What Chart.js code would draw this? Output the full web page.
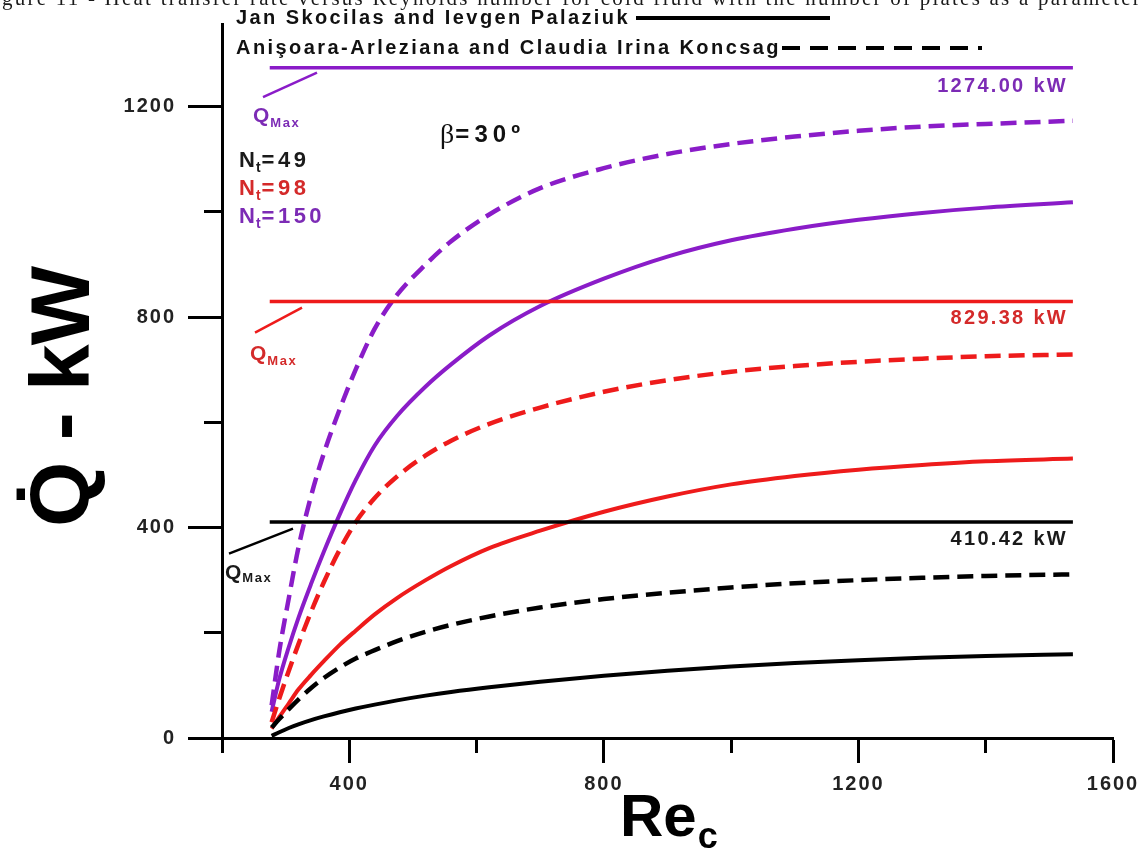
<!DOCTYPE html>
<html lang="en">
<head>
<meta charset="UTF-8" />
<title>Heat transfer rate versus Reynolds number</title>
<script src="https://cdn.jsdelivr.net/npm/chart.js"></script>
<style>
  html, body { margin: 0; padding: 0; background: #fff; }
  canvas { display: block; }
</style>
</head>
<body>
<canvas id="myChart" width="1147" height="850"></canvas>
<script>
// Reynolds number of the cold fluid where the curves were read
const reValues = [278, 290, 305, 320, 340, 360, 385, 410, 440, 475, 520, 560, 620, 700, 800, 900, 1000, 1100, 1200, 1300, 1400, 1537];

// Jan Skocilas and Ievgen Palaziuk (solid lines), Q in kW
const qSkocilas49  = [4, 11, 19, 26, 34, 41, 49, 56, 63.5, 71.5, 80.5, 87.5, 96.5, 107, 118.5, 128, 136, 142.5, 148, 152.5, 156, 159];
const qSkocilas98  = [18, 40, 66, 92, 120, 146, 177, 204, 235, 266, 300, 327, 361, 394, 430, 459, 482, 498, 510, 519, 526, 531];
const qSkocilas150 = [50, 112, 173, 228, 293, 354, 425, 490, 556, 612, 668, 710, 765, 821, 873, 915, 946, 968, 985, 998, 1008, 1018];

// Anisoara-Arleziana and Claudia Irina Koncsag (dashed lines), Q in kW
const qKoncsag49  = [20, 36, 55, 73, 95, 114, 134, 151, 167, 184, 202, 215, 231, 248, 264, 276, 286, 294, 300, 304.5, 308, 311];
const qKoncsag98  = [30, 75, 128, 178, 240, 296, 358, 410, 456, 497, 537, 565, 597, 628, 658, 680, 696, 707, 715, 721, 725.5, 729];
const qKoncsag150 = [62, 165, 266, 361, 460, 541, 625, 700, 778, 842, 900, 944, 995, 1045, 1083, 1110, 1129, 1143, 1154, 1162, 1167, 1173];

// maximum heat transfer rate for each number of plates
const qMaxValues = [410.42, 829.38, 1274.00];
const qMaxLabels = ['410.42 kW', '829.38 kW', '1274.00 kW'];
const qMaxRe = [275, 1537];
const ntValues = ['49', '98', '150'];
const seriesColors = ['#000000', '#ee1b1b', '#8a1cc8'];
const textColors = ['#1a1a1a', '#d42a2a', '#7c2bb5'];

const FONT = '"Liberation Sans", Arial, Helvetica, sans-serif';
const SERIF = '"Liberation Serif", "Times New Roman", serif';

function toPoints(ys) {
  return reValues.map((re, i) => ({ x: re, y: ys[i] }));
}
function flatLine(q) {
  return qMaxRe.map(re => ({ x: re, y: q }));
}

const solidSeries = [qSkocilas49, qSkocilas98, qSkocilas150];
const dashedSeries = [qKoncsag49, qKoncsag98, qKoncsag150];
const datasets = [];
for (let i = 0; i < 3; i++) {
  datasets.push({ data: flatLine(qMaxValues[i]), borderColor: seriesColors[i], borderWidth: 3.5 });
  datasets.push({ data: toPoints(solidSeries[i]), borderColor: seriesColors[i], borderWidth: 4 });
  datasets.push({ data: toPoints(dashedSeries[i]), borderColor: seriesColors[i], borderWidth: 4.5, borderDash: [16, 8] });
}
datasets.forEach(d => { d.showLine = true; d.pointRadius = 0; d.fill = false; });

// draw text, optionally stretched with letter spacing to a given width
function txt(ctx, str, x, y, size, color, o) {
  o = o || {};
  ctx.save();
  ctx.font = (o.weight || 'bold') + ' ' + size + 'px ' + (o.family || FONT);
  ctx.fillStyle = color;
  ctx.textAlign = o.align || 'left';
  ctx.textBaseline = 'alphabetic';
  ctx.letterSpacing = '0px';
  if (o.width) {
    const w0 = ctx.measureText(str).width;
    ctx.letterSpacing = ((o.width - w0) / str.length) + 'px';
  } else if (o.ls) {
    ctx.letterSpacing = o.ls + 'px';
  }
  ctx.fillText(str, x, y);
  const w = ctx.measureText(str).width;
  ctx.restore();
  return w;
}

function seg(ctx, x1, y1, x2, y2, color, width, dash) {
  ctx.save();
  ctx.strokeStyle = color;
  ctx.lineWidth = width;
  ctx.setLineDash(dash || []);
  ctx.beginPath();
  ctx.moveTo(x1, y1);
  ctx.lineTo(x2, y2);
  ctx.stroke();
  ctx.restore();
}

// label offsets for the Q_Max notes, relative to each horizontal line
const qMaxNotes = [
  { lx1: 229, ly1: 31.5, lx2: 293, ly2: 6.5, qx: 225, qy: 56.5, my: 60 },
  { lx1: 255, ly1: 31, lx2: 302, ly2: 6, qx: 250, qy: 58.5, my: 63.5 },
  { lx1: 263, ly1: 29.5, lx2: 317, ly2: 5, qx: 253, qy: 54, my: 59 }
];

const decor = {
  id: 'decor',
  beforeDraw(chart) {
    chart.ctx.letterSpacing = '2px';
  },
  afterDraw(chart) {
    const ctx = chart.ctx;
    const ys = chart.scales.y;
    ctx.letterSpacing = '0px';

    // cut caption at the top of the page
    ctx.save();
    ctx.font = '21px ' + SERIF;
    const caption = 'Figure 11 - Heat transfer rate versus Reynolds number for cold fluid with the number of plates as a parameter';
    const wFi = ctx.measureText('Fi').width;
    const wRest = ctx.measureText(caption.slice(2)).width;
    ctx.restore();
    const capLs = (1140 - wRest) / (caption.length - 2);
    txt(ctx, caption, 2 - wFi - 2 * capLs, 5, 21, '#1a1a1a', { weight: 'normal', family: SERIF, ls: capLs });

    // legend
    txt(ctx, 'Jan Skocilas and Ievgen Palaziuk', 236, 24, 20, '#111', { width: 394 });
    seg(ctx, 636, 18, 830, 18, '#000', 4);
    txt(ctx, 'Anişoara-Arleziana and Claudia Irina Koncsag', 236, 54, 20, '#111', { width: 545 });
    seg(ctx, 782, 48, 982, 48, '#000', 4, [18, 10]);

    // Q_Max notes and values
    for (let i = 0; i < 3; i++) {
      const yq = ys.getPixelForValue(qMaxValues[i]);
      const n = qMaxNotes[i];
      seg(ctx, n.lx1, yq + n.ly1, n.lx2, yq + n.ly2, seriesColors[i], 2.5);
      const wq = txt(ctx, 'Q', n.qx, yq + n.qy, 21, textColors[i]);
      txt(ctx, 'Max', n.qx + wq + 1, yq + n.my, 13, textColors[i], { ls: 1.5 });
      txt(ctx, qMaxLabels[i], 1068, yq + (i === 2 ? 24 : 22.5), 20, textColors[i], { align: 'right', ls: 2.3 });
    }

    // number of plates
    const ntBase = [167, 195, 223];
    for (let i = 0; i < 3; i++) {
      let x = 239;
      x += txt(ctx, 'N', x, ntBase[i], 22, textColors[i], { ls: 1 });
      x += txt(ctx, 't', x, ntBase[i] + 5, 14, textColors[i], { ls: 1 });
      txt(ctx, '=' + ntValues[i], x, ntBase[i], 22, textColors[i], { ls: 3.5 });
    }

    // chevron angle
    const wb = txt(ctx, 'β', 440, 143, 28, '#111', { weight: 'normal', family: SERIF });
    txt(ctx, '=30º', 440 + wb + 1, 142, 24, '#111', { width: 70 });

    // axis titles
    ctx.save();
    ctx.translate(89, 397);
    ctx.rotate(-Math.PI / 2);
    txt(ctx, 'Q\u0307 - kW', 0, 0, 84, '#000', { align: 'center', ls: -1 });
    ctx.restore();
    const wr = txt(ctx, 'Re', 620, 836, 60, '#000');
    txt(ctx, 'c', 620 + wr + 1, 848, 36, '#000');
  }
};

const tickFont = { family: FONT, size: 20, weight: 'bold' };

new Chart(document.getElementById('myChart').getContext('2d'), {
  type: 'scatter',
  data: { datasets: datasets },
  options: {
    responsive: false,
    animation: false,
    layout: { padding: { top: 19, right: 34, left: 0, bottom: 0 } },
    elements: { line: { cubicInterpolationMode: 'monotone', borderCapStyle: 'butt', borderJoinStyle: 'round' } },
    plugins: { legend: { display: false }, tooltip: { enabled: false } },
    scales: {
      x: {
        type: 'linear', position: 'bottom', min: 200, max: 1600,
        afterFit: s => { s.height = 112; },
        border: { display: true, color: '#000', width: 3 },
        grid: {
          display: true, drawOnChartArea: false, drawTicks: true,
          tickLength: 25, tickWidth: 3, tickColor: '#000',
          tickBorderDash: c => (c.tick && c.tick.value % 400 === 0) ? [] : [13, 40]
        },
        ticks: {
          stepSize: 200, includeBounds: false, autoSkip: false, maxRotation: 0,
          padding: 9, color: '#222', font: tickFont,
          callback: v => (v % 400 === 0 ? String(v) : '')
        }
      },
      y: {
        type: 'linear', position: 'left', min: 0, max: 1357,
        afterFit: s => { s.width = 222; },
        border: { display: true, color: '#000', width: 3 },
        grid: {
          display: true, drawOnChartArea: false, drawTicks: true,
          tickLength: 34, tickWidth: 3, tickColor: '#000',
          tickBorderDash: c => (c.tick && c.tick.value % 400 === 0) ? [] : [18, 16],
          tickBorderDashOffset: c => (c.tick && c.tick.value % 400 === 0) ? 0 : 18
        },
        ticks: {
          stepSize: 200, includeBounds: false, autoSkip: false,
          padding: 12, color: '#222', font: tickFont,
          callback: v => (v % 400 === 0 ? String(v) : '')
        }
      }
    }
  },
  plugins: [decor]
});
</script>
</body>
</html>
